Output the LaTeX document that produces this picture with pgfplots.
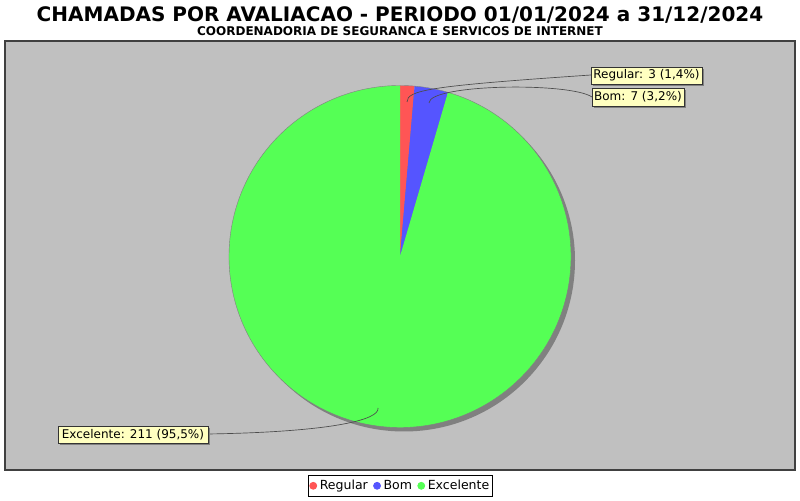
\documentclass[border=0pt]{standalone}
\usepackage{pgfplots}
\pgfplotsset{compat=1.18}
\usepackage{pgfplotstable}
\usepackage{fontspec}
\setmainfont{DejaVu Sans}
\definecolor{regcol}{RGB}{255,85,85}
\definecolor{bomcol}{RGB}{85,85,255}
\definecolor{exccol}{RGB}{85,255,85}
\definecolor{plotbg}{RGB}{192,192,192}
\definecolor{labelbg}{RGB}{255,255,192}
\definecolor{shadowc}{RGB}{128,128,128}
\definecolor{borderc}{RGB}{64,64,64}

\pgfplotstableread{
label value
Regular 3
Bom 7
Excelente 211
}\piedata

\begin{document}
\begin{tikzpicture}
\pgfplotstablegetelem{0}{value}\of\piedata \let\vA\pgfplotsretval
\pgfplotstablegetelem{1}{value}\of\piedata \let\vB\pgfplotsretval
\pgfplotstablegetelem{2}{value}\of\piedata \let\vC\pgfplotsretval
\pgfmathsetmacro{\tot}{\vA+\vB+\vC}
\pgfmathsetmacro{\aA}{90-360*\vA/\tot}
\pgfmathsetmacro{\aB}{\aA-360*\vB/\tot}
\def\R{128.25pt}
\begin{axis}[
  x=0.75pt, y=0.75pt,
  xmin=0, xmax=800, ymin=0, ymax=500,
  hide axis, clip=false,
  legend columns=3,
  legend style={at={(axis cs:400,25)}, anchor=north, draw=black, line width=0.6pt,
    font=\fontsize{9.4}{11}\selectfont, inner xsep=1pt, inner ysep=1.2pt,
    nodes={inner xsep=1pt, inner ysep=2pt, text height=7pt, text depth=2.2pt},
    /tikz/every odd column/.append style={column sep=1pt},
    /tikz/every even column/.append style={column sep=3pt}},
  legend cell align=left,
]
\path (axis cs:0,0) rectangle (axis cs:800,500);
% plot area
\fill[plotbg] (axis cs:5,30) rectangle (axis cs:795,459);
\draw[borderc, line width=0.9pt] (axis cs:5,30) rectangle (axis cs:795,459);
% shadow
\fill[shadowc] (axis cs:404,239.5) circle[radius=\R];
% slices
\fill[regcol] (axis cs:400,243.5) -- ++(90:\R) arc[start angle=90, end angle=\aA, radius=\R] -- cycle;
\fill[bomcol] (axis cs:400,243.5) -- ++(\aA:\R) arc[start angle=\aA, end angle=\aB, radius=\R] -- cycle;
\fill[exccol] (axis cs:400,243.5) -- ++(\aB:\R) arc[start angle=\aB, end angle=-270, radius=\R] -- cycle;
\draw[gray, line width=0.3pt] (axis cs:400,243.5) circle[radius=\R];
% link lines
\draw[black!70, line width=0.5pt] (axis cs:591,425) .. controls (axis cs:430,414) and (axis cs:407,410) .. (axis cs:407,398);
\draw[black!70, line width=0.5pt] (axis cs:592,403) .. controls (axis cs:570,418) and (axis cs:429,416) .. (axis cs:429,397);
\draw[black!70, line width=0.5pt] (axis cs:208,66) .. controls (axis cs:330,68) and (axis cs:380,80) .. (axis cs:378,92);
% label boxes
\fill[shadowc] (axis cs:593,414) rectangle (axis cs:704,431);
\filldraw[fill=labelbg, draw=black!80, line width=0.4pt] (axis cs:591,416) rectangle (axis cs:702,433);
\node[font=\fontsize{9}{10.5}\selectfont] at (axis cs:646.5,424.5) {Regular: 3 (1,4\%)};
\fill[shadowc] (axis cs:594,392) rectangle (axis cs:686,410);
\filldraw[fill=labelbg, draw=black!80, line width=0.4pt] (axis cs:592,394) rectangle (axis cs:684,412);
\node[font=\fontsize{9}{10.5}\selectfont] at (axis cs:638,403) {Bom: 7 (3,2\%)};
\fill[shadowc] (axis cs:60,55) rectangle (axis cs:210,72);
\filldraw[fill=labelbg, draw=black!80, line width=0.4pt] (axis cs:58,57) rectangle (axis cs:208,74);
\node[font=\fontsize{9}{10.5}\selectfont] at (axis cs:133,65.5) {Excelente: 211 (95,5\%)};
% titles
\node[anchor=base, font=\fontsize{15}{18}\selectfont\bfseries] at (axis cs:400,478) {CHAMADAS POR AVALIACAO - PERIODO 01/01/2024 a 31/12/2024};
\node[anchor=base, font=\fontsize{9}{10.5}\selectfont\bfseries] at (axis cs:400,464) {COORDENADORIA DE SEGURANCA E SERVICOS DE INTERNET};
% legend
\addlegendimage{legend image code/.code={\fill[regcol] (0.1cm,0pt) circle[radius=2.6pt];}}
\addlegendentry{Regular}
\addlegendimage{legend image code/.code={\fill[bomcol] (0.1cm,0pt) circle[radius=2.6pt];}}
\addlegendentry{Bom}
\addlegendimage{legend image code/.code={\fill[exccol] (0.1cm,0pt) circle[radius=2.6pt];}}
\addlegendentry{Excelente}
\end{axis}
\end{tikzpicture}
\end{document}
